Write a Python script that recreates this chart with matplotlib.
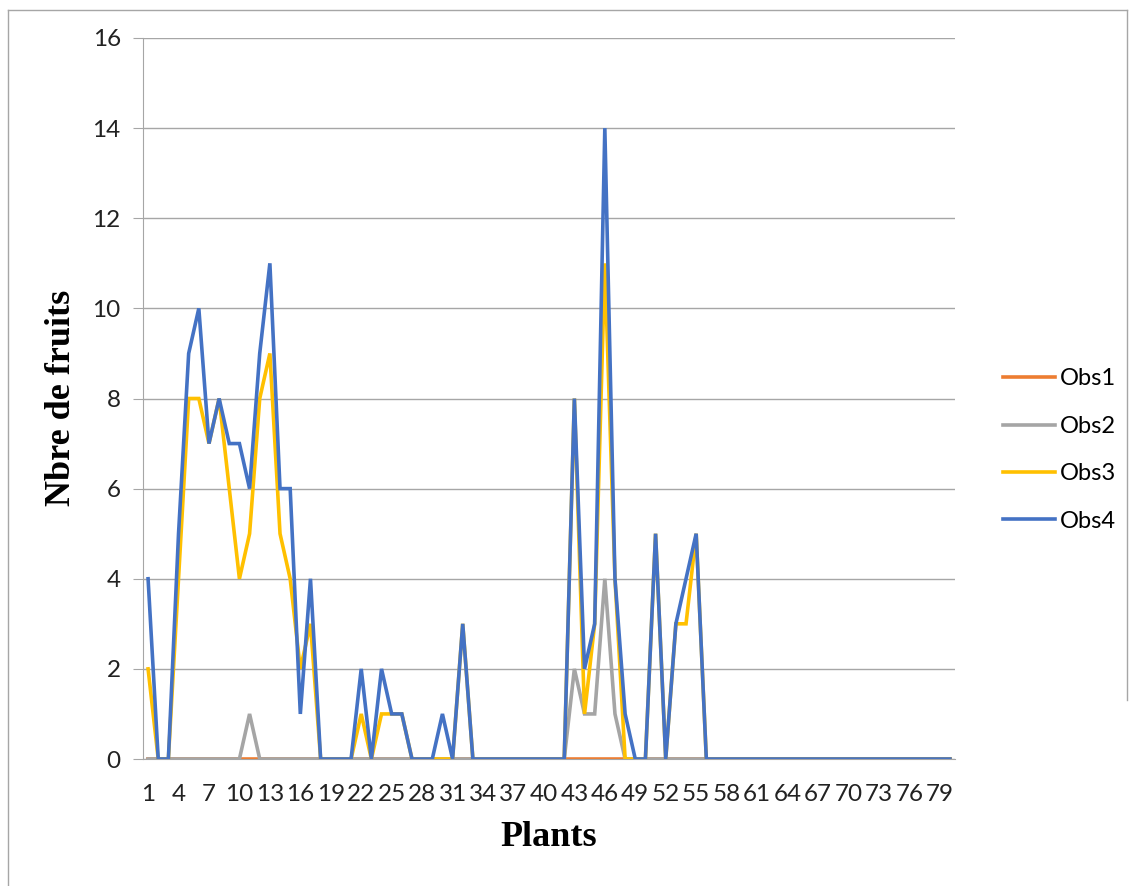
import matplotlib
matplotlib.use('Agg')
import matplotlib.pyplot as plt
from matplotlib.lines import Line2D

# plant numbers 1..80
plants = list(range(1, 81))

obs1 = [0, 0, 0, 0, 0, 0, 0, 0, 0, 0,
        0, 0, 0, 0, 0, 0, 0, 0, 0, 0,
        0, 0, 0, 0, 0, 0, 0, 0, 0, 0,
        0, 0, 0, 0, 0, 0, 0, 0, 0, 0,
        0, 0, 0, 0, 0, 0, 0, 0, 0, 0,
        0, 0, 0, 0, 0, 0, 0, 0, 0, 0,
        0, 0, 0, 0, 0, 0, 0, 0, 0, 0,
        0, 0, 0, 0, 0, 0, 0, 0, 0, 0]

obs2 = [0, 0, 0, 0, 0, 0, 0, 0, 0, 0,
        1, 0, 0, 0, 0, 0, 0, 0, 0, 0,
        0, 0, 0, 0, 0, 0, 0, 0, 0, 0,
        0, 0, 0, 0, 0, 0, 0, 0, 0, 0,
        0, 0, 2, 1, 1, 4, 1, 0, 0, 0,
        0, 0, 0, 0, 0, 0, 0, 0, 0, 0,
        0, 0, 0, 0, 0, 0, 0, 0, 0, 0,
        0, 0, 0, 0, 0, 0, 0, 0, 0, 0]

obs3 = [2, 0, 0, 4, 8, 8, 7, 8, 6, 4,
        5, 8, 9, 5, 4, 2, 3, 0, 0, 0,
        0, 1, 0, 1, 1, 1, 0, 0, 0, 0,
        0, 3, 0, 0, 0, 0, 0, 0, 0, 0,
        0, 0, 8, 1, 3, 11, 4, 0, 0, 0,
        5, 0, 3, 3, 5, 0, 0, 0, 0, 0,
        0, 0, 0, 0, 0, 0, 0, 0, 0, 0,
        0, 0, 0, 0, 0, 0, 0, 0, 0, 0]

obs4 = [4, 0, 0, 5, 9, 10, 7, 8, 7, 7,
        6, 9, 11, 6, 6, 1, 4, 0, 0, 0,
        0, 2, 0, 2, 1, 1, 0, 0, 0, 1,
        0, 3, 0, 0, 0, 0, 0, 0, 0, 0,
        0, 0, 8, 2, 3, 14, 4, 1, 0, 0,
        5, 0, 3, 4, 5, 0, 0, 0, 0, 0,
        0, 0, 0, 0, 0, 0, 0, 0, 0, 0,
        0, 0, 0, 0, 0, 0, 0, 0, 0, 0]

series = [('Obs1', obs1, '#ED7D31'),
          ('Obs2', obs2, '#A5A5A5'),
          ('Obs3', obs3, '#FFC000'),
          ('Obs4', obs4, '#4472C4')]

W, H = 1135, 886
fig = plt.figure(figsize=(W / 100, H / 100), dpi=100)
ax = fig.add_axes([143 / W, 1 - 759 / H, (955 - 143) / W, (759 - 38) / H])

for name, vals, col in series:
    ax.plot(plants, vals, color=col, lw=2.6, label=name, solid_joinstyle='miter')

grid_col = '#A6A6A6'
ax.set_xlim(0.5, 80.5)
ax.set_ylim(0, 16)
ax.set_yticks(range(0, 17, 2))
ax.set_xticks(plants[::3])
ax.set_xticklabels([str(p) for p in plants[::3]])
ax.yaxis.grid(True, color=grid_col, lw=1)
ax.set_axisbelow(True)
for s in ['top', 'right']:
    ax.spines[s].set_visible(False)
for s in ['left', 'bottom']:
    ax.spines[s].set_color(grid_col)
ax.tick_params(axis='y', length=7, color=grid_col, pad=9, labelsize=17.5)
ax.tick_params(axis='x', length=0, pad=18, labelsize=17.5)
for lab in ax.get_xticklabels() + ax.get_yticklabels():
    lab.set_family('Lato')
    lab.set_color('#222222')

# axis titles
fig.text(62 / W, 1 - 398 / H, 'Nbre de fruits', rotation=90, ha='center', va='center',
         family='Liberation Serif', weight='bold', fontsize=26)
fig.text(549 / W, 1 - 838 / H, 'Plants', ha='center', va='center',
         family='Liberation Serif', weight='bold', fontsize=26)

handles = [Line2D([], [], color=c, lw=2.6) for _, _, c in series]
fig.legend(handles, [n for n, _, _ in series], loc='center left',
           bbox_to_anchor=(991 / W, 1 - 450 / H), frameon=False,
           prop={'family': 'Lato', 'size': 17}, handlelength=2.2,
           handletextpad=0.2, labelspacing=1.12, borderpad=0)

# outer chart border
fig.add_artist(Line2D([8 / W, 8 / W], [0, 1 - 10 / H], color='#A6A6A6', lw=1))
fig.add_artist(Line2D([8 / W, 1127 / W], [1 - 10 / H, 1 - 10 / H], color='#A6A6A6', lw=1))
fig.add_artist(Line2D([1127 / W, 1127 / W], [1 - 10 / H, 1 - 700 / H], color='#A6A6A6', lw=1))

fig.savefig('out.png', dpi=100)
